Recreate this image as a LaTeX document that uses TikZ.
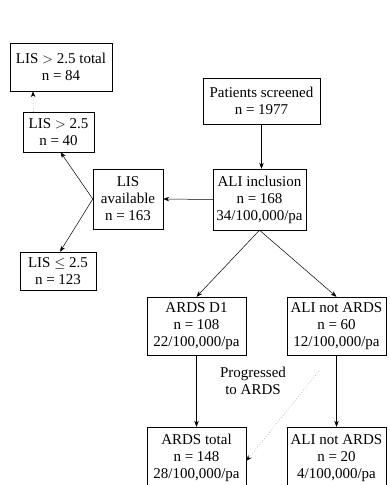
\documentclass[tikz,border=0pt]{standalone}
\usepackage{fontspec}
\setmainfont{Liberation Serif}
\usetikzlibrary{arrows.meta}
\begin{document}
\begin{tikzpicture}[x=1pt, y=-1pt, >={Stealth[length=6pt,width=4.5pt]},
  box/.style={draw, thin, align=center, inner sep=2pt, font=\fontsize{15}{17}\selectfont},
  plain/.style={align=center, inner sep=0pt, font=\fontsize{15}{17}\selectfont},
  flow/.style={->, line width=0.5pt},
  faint/.style={-{Stealth[length=6pt,width=4.5pt,black]}, gray!60, dotted, line width=0.7pt}]
\useasboundingbox (0,0) rectangle (389,485);
\node[box, minimum width=102pt, minimum height=48pt] (listot) at (61,67) {LIS $>$ 2.5 total\\n = 84};
\node[box, minimum width=71pt, minimum height=40pt] (lishi) at (58.5,132) {LIS $>$ 2.5\\n = 40};
\node[box, minimum width=70pt, minimum height=60pt] (lisav) at (128,199) {LIS\\available\\n = 163};
\node[box, minimum width=76pt, minimum height=38pt] (lislo) at (58,271) {LIS $\leq$ 2.5\\n = 123};
\node[box, minimum width=117pt, minimum height=46pt] (screen) at (261.5,101) {Patients screened\\n = 1977};
\node[box, minimum width=93pt, minimum height=61pt] (ali) at (259.5,199.5) {ALI inclusion\\n = 168\\34/100,000/pa};
\node[box, minimum width=99pt, minimum height=58pt] (ardsd1) at (196.5,326) {ARDS D1\\n = 108\\22/100,000/pa};
\node[box, minimum width=99pt, minimum height=58pt] (alid1) at (336.5,326) {ALI not ARDS\\n = 60\\12/100,000/pa};
\node[box, minimum width=99pt, minimum height=62pt] (ardstot) at (196.5,458) {ARDS total\\n = 148\\28/100,000/pa};
\node[box, minimum width=99pt, minimum height=62pt] (alitot) at (336.5,458) {ALI not ARDS\\n = 20\\4/100,000/pa};
\node[plain] (prog) at (253,381) {Progressed\\to ARDS};
\coordinate (progstart) at (319,371);
% connectors
\draw[flow] (screen.south) -- (screen.south |- ali.north);
\draw[flow] (ali.west) -- (lisav.east);
\draw[flow] (lisav.west) -- ([xshift=2pt]lishi.south);
\draw[flow] (lisav.west) -- ([xshift=2pt]lislo.north);
\draw[faint] ([xshift=-25pt]lishi.north) -- ([xshift=-28pt]listot.south);
\draw[flow] (ali.south) -- (ardsd1.north);
\draw[flow] (ali.south) -- (alid1.north);
\draw[flow] (ardsd1) -- (ardstot);
\draw[flow] (alid1) -- (alitot);
\draw[faint] (progstart) -- ([yshift=-3pt]ardstot.east);
\end{tikzpicture}
\end{document}
